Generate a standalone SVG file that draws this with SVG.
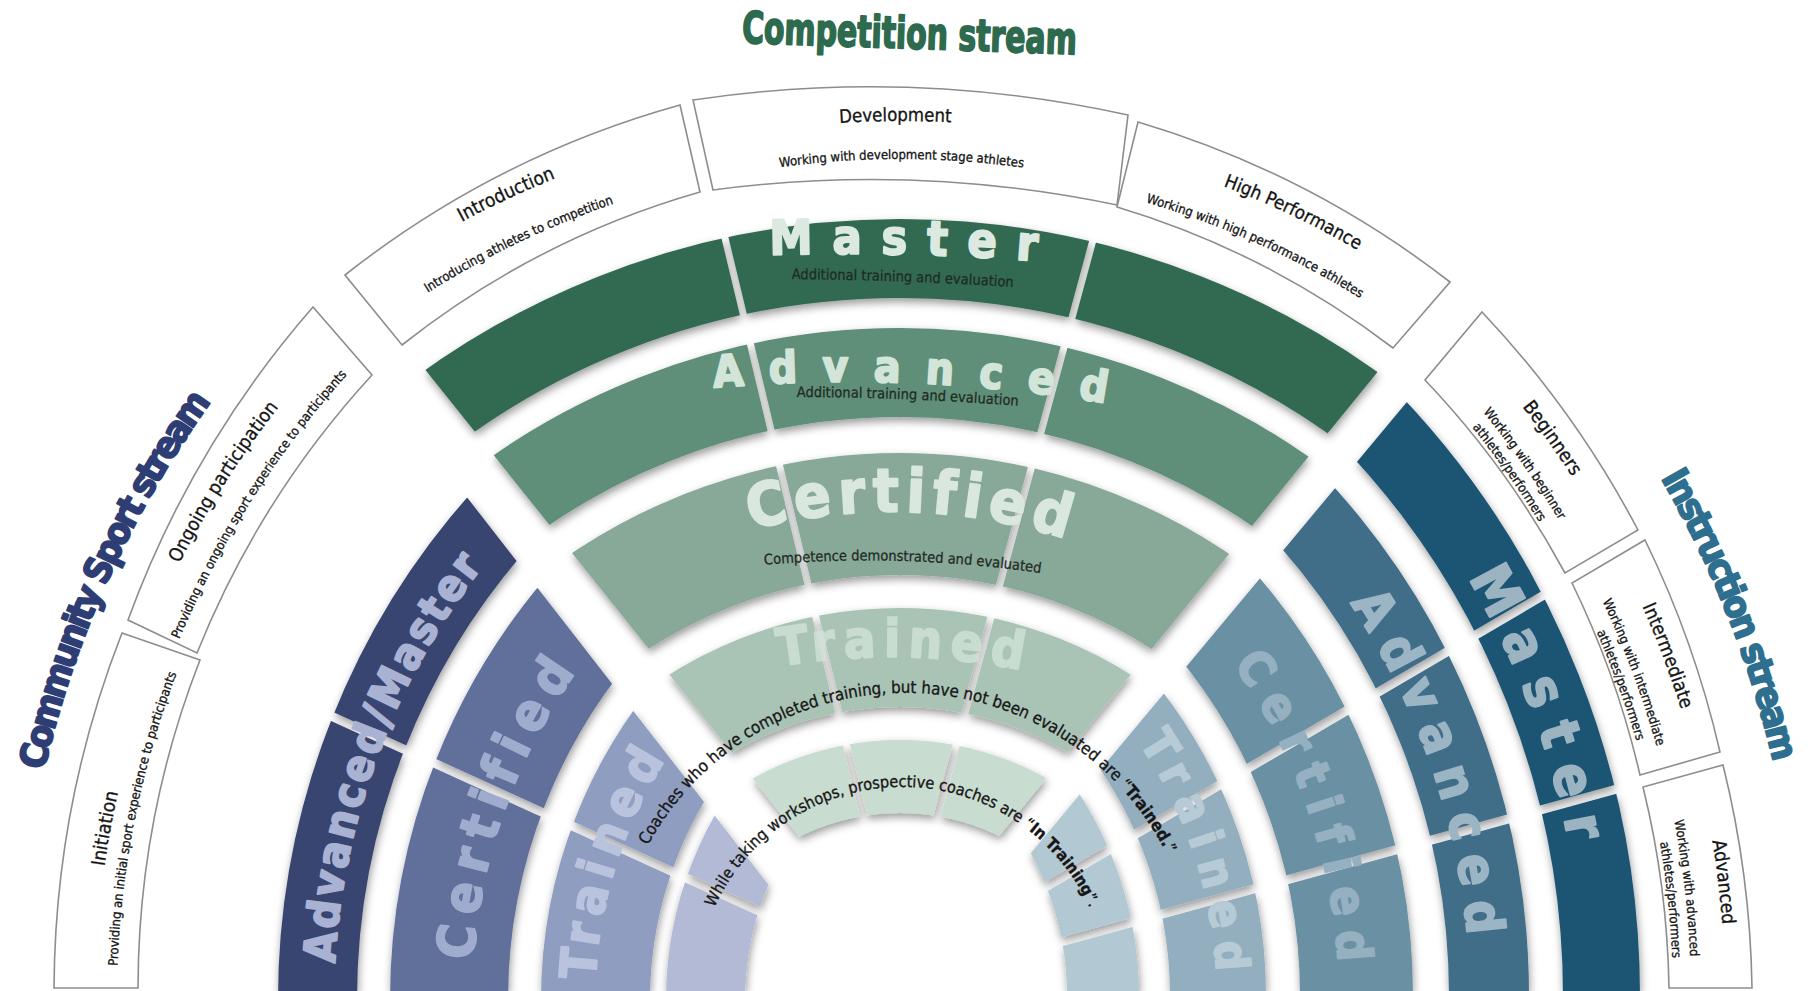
<svg xmlns="http://www.w3.org/2000/svg" width="1810" height="991" viewBox="0 0 1810 991">
<style>
  .ring { fill: none; }
  .box { fill: #ffffff; stroke: #8d8d8d; stroke-width: 1.6; }
  .bt { font-family: 'DejaVu Sans Condensed', 'Liberation Sans Narrow', sans-serif; fill: #141414; stroke: #141414; stroke-width: 0.3; }
  .bt-title { font-size: 19px; }
  .bt-sub { font-size: 13px; }
  .big { font-family: 'DejaVu Sans Condensed', 'Liberation Sans Narrow', sans-serif; font-weight: bold; stroke-width: 2; stroke-linejoin: round; }
  .stream { font-family: 'DejaVu Sans Condensed', 'Liberation Sans Narrow', sans-serif; font-weight: bold; stroke-width: 1.8; stroke-linejoin: round; }
  .note { font-family: 'DejaVu Sans Condensed', 'Liberation Sans Narrow', sans-serif; fill: #161616; stroke: #161616; stroke-width: 0.3; }
  .inner-note { font-family: 'DejaVu Sans Condensed', 'Liberation Sans Narrow', sans-serif; font-size: 14.5px; fill: #1f2a24; stroke: #1f2a24; stroke-width: 0.25; }
</style>
<defs>
  <filter id="shadow" filterUnits="userSpaceOnUse" x="0" y="0" width="1810" height="991">
    <feDropShadow dx="1" dy="4" stdDeviation="4" flood-color="#000" flood-opacity="0.4"/>
  </filter>

  <!-- stream wedges -->
  <clipPath id="c-comp"><polygon points="898,960 129,0 1681,0"/></clipPath>
  <clipPath id="c-left"><polygon points="80,0 936,1100 0,1100 0,0"/></clipPath>
  <clipPath id="c-right"><polygon points="1742,0 1900,0 1900,1100 825,1100"/></clipPath>

  <!-- cuts between the pieces of each ring -->
  <mask id="m-comp" maskUnits="userSpaceOnUse" x="0" y="0" width="1810" height="991">
    <rect width="1810" height="991" fill="#fff"/>
    <path d="M898,960 L668,0 M898,960 L1158,0" stroke="#000" stroke-width="7"/>
  </mask>
  <mask id="m-left" maskUnits="userSpaceOnUse" x="0" y="0" width="1810" height="991">
    <rect width="1810" height="991" fill="#fff"/>
    <path d="M150,633.5 L910,980" stroke="#000" stroke-width="9"/>
  </mask>
  <mask id="m-right" maskUnits="userSpaceOnUse" x="0" y="0" width="1810" height="991">
    <rect width="1810" height="991" fill="#fff"/>
    <path d="M880,984 L1800,445 M880,991.7 L1800,738.7" stroke="#000" stroke-width="9"/>
  </mask>

  <!-- competition label baselines -->
  <path id="p-master" d="M743,256 A2500,2500 0 0 1 1083,265"/>
  <path id="p-master-sub" d="M762,279 A4000,4000 0 0 1 1043,289"/>
  <path id="p-adv" d="M700,389 A1550,1550 0 0 1 1144,410"/>
  <path id="p-adv-sub" d="M770,397 A3000,3000 0 0 1 1045,408"/>
  <path id="p-cert" d="M725,537 A568,568 0 0 1 1098,550"/>
  <path id="p-cert-sub" d="M752,566 A1200,1200 0 0 1 1053,575"/>
  <path id="p-trained" d="M760,670 A660,660 0 0 1 1049,676"/>
  <path id="p-coach" d="M612,986 a293,293 0 1 1 586,0 a293,293 0 1 1 -586,0"/>
  <path id="p-train" d="M696,993 a206,206 0 1 1 412,0 a206,206 0 1 1 -412,0"/>
  <path id="p-c928" d="M-28,1040 a928,928 0 1 1 1856,0 a928,928 0 1 1 -1856,0"/>
  <path id="p-c884" d="M16,1040 a884,884 0 1 1 1768,0 a884,884 0 1 1 -1768,0"/>
  <path id="p-c919" d="M-19,1040 a919,919 0 1 1 1838,0 a919,919 0 1 1 -1838,0"/>
  <path id="p-c881" d="M19,1040 a881,881 0 1 1 1762,0 a881,881 0 1 1 -1762,0"/>
  <path id="p-c913" d="M-13,1040 a913,913 0 1 1 1826,0 a913,913 0 1 1 -1826,0"/>
  <path id="p-c873" d="M27,1040 a873,873 0 1 1 1746,0 a873,873 0 1 1 -1746,0"/>

  <!-- community sport label baselines -->
  <path id="p-l706" d="M334,1000 a706,706 0 1 1 1412,0 a706,706 0 1 1 -1412,0"/>
  <path id="p-l568" d="M472,1000 a568,568 0 1 1 1136,0 a568,568 0 1 1 -1136,0"/>
  <path id="p-l445" d="M595,1000 a445,445 0 1 1 890,0 a445,445 0 1 1 -890,0"/>
  <path id="p-l965" d="M75,1000 a965,965 0 1 1 1930,0 a965,965 0 1 1 -1930,0"/>
  <path id="p-l933" d="M107,1000 a933,933 0 1 1 1866,0 a933,933 0 1 1 -1866,0"/>
  <path id="p-l945" d="M95,1000 a945,945 0 1 1 1890,0 a945,945 0 1 1 -1890,0"/>
  <path id="p-l923" d="M117,1000 a923,923 0 1 1 1846,0 a923,923 0 1 1 -1846,0"/>
  <path id="p-l1022" d="M18,1000 a1022,1022 0 1 1 2044,0 a1022,1022 0 1 1 -2044,0"/>

  <!-- instruction label baselines -->
  <path id="p-r816" d="M-49,996 a816,816 0 1 1 1632,0 a816,816 0 1 1 -1632,0"/>
  <path id="p-r703" d="M64,996 a703,703 0 1 1 1406,0 a703,703 0 1 1 -1406,0"/>
  <path id="p-r572" d="M195,996 a572,572 0 1 1 1144,0 a572,572 0 1 1 -1144,0"/>
  <path id="p-r450" d="M317,996 a450,450 0 1 1 900,0 a450,450 0 1 1 -900,0"/>
  <path id="p-r958" d="M-191,996 a958,958 0 1 1 1916,0 a958,958 0 1 1 -1916,0"/>
  <path id="p-r924" d="M-157,996 a924,924 0 1 1 1848,0 a924,924 0 1 1 -1848,0"/>
  <path id="p-r906" d="M-139,996 a906,906 0 1 1 1812,0 a906,906 0 1 1 -1812,0"/>
  <path id="p-r1033" d="M-266,996 a1033,1033 0 1 1 2066,0 a1033,1033 0 1 1 -2066,0"/>
</defs>

<rect width="1810" height="991" fill="#ffffff"/>

<!-- ===== Competition stream ===== -->
<g id="competition-stream" filter="url(#shadow)">
  <g clip-path="url(#c-comp)" mask="url(#m-comp)">
    <g id="comp-master"><circle class="ring" cx="900" cy="1040" r="781.5" stroke="#336a51" stroke-width="79"/></g>
    <g id="comp-advanced"><circle class="ring" cx="900" cy="1040" r="667.5" stroke="#5f8f78" stroke-width="89"/></g>
    <g id="comp-certified"><circle class="ring" cx="900" cy="1040" r="526" stroke="#88a898" stroke-width="122"/></g>
    <g id="comp-trained"><circle class="ring" cx="900" cy="1040" r="382.5" stroke="#a9c4b5" stroke-width="99"/></g>
    <g id="comp-in-training"><circle class="ring" cx="900" cy="1040" r="263.5" stroke="#c8dccf" stroke-width="73"/></g>
  </g>
</g>

<!-- ===== Community Sport stream ===== -->
<g id="community-stream" filter="url(#shadow)">
  <g clip-path="url(#c-left)" mask="url(#m-left)">
    <g id="comm-advanced-master"><circle class="ring" cx="1040" cy="1000" r="722.5" stroke="#37446f" stroke-width="79"/></g>
    <g id="comm-certified"><circle class="ring" cx="1040" cy="1000" r="591" stroke="#61709a" stroke-width="118"/></g>
    <g id="comm-trained"><circle class="ring" cx="1040" cy="1000" r="444.5" stroke="#8f9dc1" stroke-width="109"/></g>
    <g id="comm-in-training"><circle class="ring" cx="1040" cy="1000" r="334.5" stroke="#b3bad5" stroke-width="79"/></g>
  </g>
</g>

<!-- ===== Instruction stream ===== -->
<g id="instruction-stream" filter="url(#shadow)">
  <g clip-path="url(#c-right)" mask="url(#m-right)">
    <g id="inst-master"><circle class="ring" cx="767" cy="996" r="834.5" stroke="#1c5473" stroke-width="77"/></g>
    <g id="inst-advanced"><circle class="ring" cx="767" cy="996" r="722" stroke="#3f6d88" stroke-width="80"/></g>
    <g id="inst-certified"><circle class="ring" cx="767" cy="996" r="589.5" stroke="#6b90a4" stroke-width="113"/></g>
    <g id="inst-trained"><circle class="ring" cx="767" cy="996" r="451" stroke="#93afbf" stroke-width="96"/></g>
    <g id="inst-in-training"><circle class="ring" cx="767" cy="996" r="336" stroke="#b2c8d2" stroke-width="72"/></g>
  </g>
</g>

<!-- level names on the rings -->
<g id="ring-labels">
  <text class="big" font-size="48" letter-spacing="19.6" fill="#dce9e1" stroke="#dce9e1" text-anchor="middle"><textPath href="#p-master" startOffset="50%">Master</textPath></text>
  <text class="big" font-size="44" letter-spacing="25" fill="#d3e4d9" stroke="#d3e4d9" text-anchor="middle"><textPath href="#p-adv" startOffset="50%">Advanced</textPath></text>
  <text class="big" font-size="60" letter-spacing="6.8" fill="#d9e7de" stroke="#d9e7de" text-anchor="middle"><textPath href="#p-cert" startOffset="50%">Certified</textPath></text>
  <text class="big" font-size="52" letter-spacing="8" fill="#d3e4d9" stroke="#d3e4d9" opacity="0.75" text-anchor="middle"><textPath href="#p-trained" startOffset="50%">Trained</textPath></text>

  <text class="big" font-size="44" letter-spacing="3" fill="#a9b2d2" stroke="#a9b2d2"><textPath href="#p-l706" startOffset="0.83%">Advanced/Master</textPath></text>
  <text class="big" font-size="52" letter-spacing="10" fill="#9facce" stroke="#9facce"><textPath href="#p-l568" startOffset="1.11%">Certified</textPath></text>
  <text class="big" font-size="50" letter-spacing="7.5" fill="#b9c3de" stroke="#b9c3de"><textPath href="#p-l445" startOffset="0.72%">Trained</textPath></text>

  <text class="big" font-size="55" letter-spacing="18" fill="#9cb3c2" stroke="#9cb3c2"><textPath href="#p-r816" startOffset="41.44%">Master</textPath></text>
  <text class="big" font-size="52" letter-spacing="14" fill="#9cb5c5" stroke="#9cb5c5"><textPath href="#p-r703" startOffset="40.56%">Advanced</textPath></text>
  <text class="big" font-size="48" letter-spacing="13.6" fill="#95b0c0" stroke="#95b0c0"><textPath href="#p-r572" startOffset="40.14%">Certified</textPath></text>
  <text class="big" font-size="46" letter-spacing="12" fill="#b6cbd6" stroke="#b6cbd6"><textPath href="#p-r450" startOffset="40.47%">Trained</textPath></text>
</g>

<!-- level descriptions inside the competition rings -->
<g id="ring-notes">
  <text class="inner-note" text-anchor="middle"><textPath href="#p-master-sub" startOffset="50%">Additional training and evaluation</textPath></text>
  <text class="inner-note" text-anchor="middle"><textPath href="#p-adv-sub" startOffset="50%">Additional training and evaluation</textPath></text>
  <text class="inner-note" font-size="14" text-anchor="middle"><textPath href="#p-cert-sub" startOffset="50%">Competence demonstrated and evaluated</textPath></text>
  <text class="note" font-size="16.8" text-anchor="middle"><textPath href="#p-coach" startOffset="25.28%">Coaches who have completed training, but have not been evaluated are “<tspan font-weight="bold">Trained.</tspan>”</textPath></text>
  <text class="note" font-size="16.2" text-anchor="middle"><textPath href="#p-train" startOffset="25%">While taking workshops, prospective coaches are “<tspan font-weight="bold">In Training</tspan>”.</textPath></text>
</g>

<!-- context boxes: competition -->
<g id="box-introduction">
  <path class="box" d="M345,275 A953,953 0 0 1 680,105 L700,192 A862,862 0 0 0 402,345 Z"/>
  <text class="bt bt-title" text-anchor="middle"><textPath href="#p-c928" startOffset="18.06%">Introduction</textPath></text>
  <text class="bt bt-sub" text-anchor="middle"><textPath href="#p-c884" startOffset="17.89%">Introducing athletes to competition</textPath></text>
</g>
<g id="box-development">
  <path class="box" d="M693,100 A1200,1200 0 0 1 1128,115 L1117,205 A1200,1200 0 0 0 713,190 Z"/>
  <text class="bt" font-size="18.5" text-anchor="middle"><textPath href="#p-c919" startOffset="24.92%">Development</textPath></text>
  <text class="bt bt-sub" text-anchor="middle"><textPath href="#p-c881" startOffset="25.03%">Working with development stage athletes</textPath></text>
</g>
<g id="box-high-performance">
  <path class="box" d="M1138,122 A953,953 0 0 1 1450,282 L1393,348 A862,862 0 0 0 1117,207 Z"/>
  <text class="bt" font-size="18.5" text-anchor="middle"><textPath href="#p-c913" startOffset="32.06%">High Performance</textPath></text>
  <text class="bt bt-sub" text-anchor="middle"><textPath href="#p-c873" startOffset="31.69%">Working with high performance athletes</textPath></text>
</g>

<!-- context boxes: community sport -->
<g id="box-ongoing">
  <path class="box" d="M128,620 A995,995 0 0 1 313,307 L372,375 A913,913 0 0 0 197,653 Z"/>
  <text class="bt bt-title" text-anchor="middle"><textPath href="#p-l965" startOffset="9%">Ongoing participation</textPath></text>
  <text class="bt bt-sub" text-anchor="middle"><textPath href="#p-l933" startOffset="9%">Providing an ongoing sport experience to participants</textPath></text>
</g>
<g id="box-initiation">
  <path class="box" d="M54,988 A988,988 0 0 1 122,633 L200,660 A906,906 0 0 0 138,988 Z"/>
  <text class="bt bt-title" text-anchor="middle"><textPath href="#p-l945" startOffset="2.89%">Initiation</textPath></text>
  <text class="bt bt-sub" text-anchor="middle"><textPath href="#p-l923" startOffset="3.17%">Providing an initial sport experience to participants</textPath></text>
</g>

<!-- context boxes: instruction -->
<g id="box-beginners">
  <path class="box" d="M1482,312 A987,987 0 0 1 1638,530 L1565,573 A902,902 0 0 0 1425,380 Z"/>
  <text class="bt bt-title" text-anchor="middle"><textPath href="#p-r958" startOffset="40.17%">Beginners</textPath></text>
  <text class="bt bt-sub" text-anchor="middle"><textPath href="#p-r924" startOffset="40.25%">Working with beginner</textPath></text>
  <text class="bt bt-sub" text-anchor="middle"><textPath href="#p-r906" startOffset="40.22%">athletes/performers</textPath></text>
</g>
<g id="box-intermediate">
  <path class="box" d="M1645,540 A987,987 0 0 1 1720,752 L1640,775 A902,902 0 0 0 1572,583 Z"/>
  <text class="bt bt-title" text-anchor="middle"><textPath href="#p-r958" startOffset="44.25%">Intermediate</textPath></text>
  <text class="bt bt-sub" text-anchor="middle"><textPath href="#p-r924" startOffset="44.31%">Working with intermediate</textPath></text>
  <text class="bt bt-sub" text-anchor="middle"><textPath href="#p-r906" startOffset="44.44%">athletes/performers</textPath></text>
</g>
<g id="box-advanced">
  <path class="box" d="M1723,765 A987,987 0 0 1 1752,988 L1669,988 A902,902 0 0 0 1643,787 Z"/>
  <text class="bt bt-title" text-anchor="middle"><textPath href="#p-r958" startOffset="48.11%">Advanced</textPath></text>
  <text class="bt bt-sub" text-anchor="middle"><textPath href="#p-r924" startOffset="48.14%">Working with advanced</textPath></text>
  <text class="bt bt-sub" text-anchor="middle"><textPath href="#p-r906" startOffset="48.31%">athletes/performers</textPath></text>
</g>

<!-- stream titles -->
<g id="title-competition">
  <text class="stream" x="0" y="0" font-size="44" text-anchor="middle" fill="#2e6a4e" stroke="#2e6a4e" transform="translate(909 48.5) rotate(2) scale(0.755 1)">Competition stream</text>
</g>
<g id="title-community">
  <text class="stream" font-size="37" letter-spacing="-3" fill="#2e3e74" stroke="#2e3e74"><textPath href="#p-l1022" startOffset="3.6%">Community Sport stream</textPath></text>
</g>
<g id="title-instruction">
  <text class="stream" font-size="37" letter-spacing="-2.5" fill="#2e6e8e" stroke="#2e6e8e"><textPath href="#p-r1033" startOffset="41.64%">Instruction stream</textPath></text>
</g>
</svg>
